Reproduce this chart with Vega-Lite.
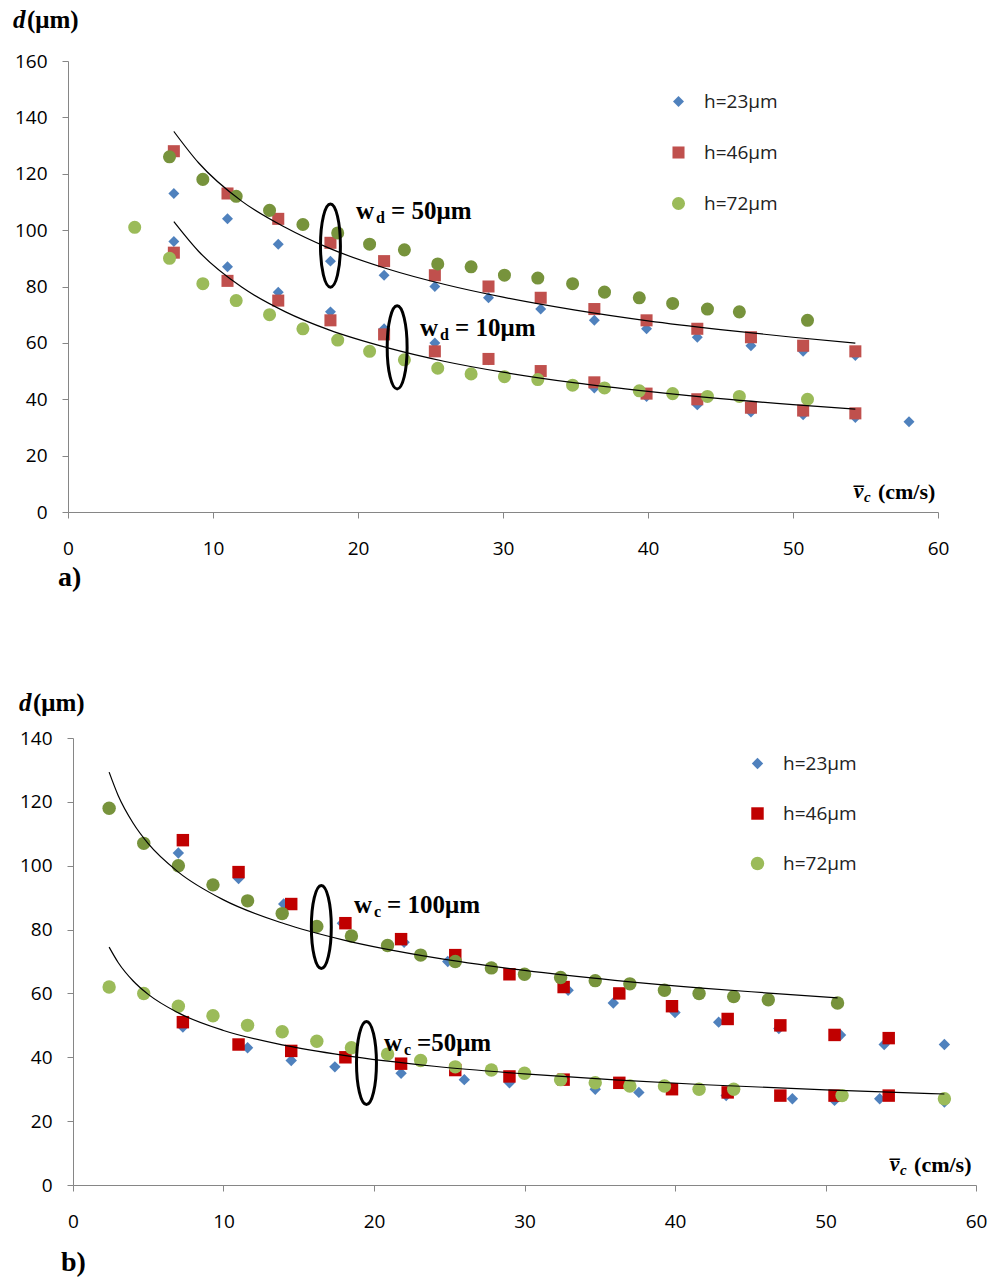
{
"$schema":"https://vega.github.io/schema/vega-lite/v6.json",
"background":"white",
"padding":{"left":12,"top":8,"right":5,"bottom":5},
"align":"none",
"spacing":98,
"resolve":{"scale":{"color":"independent","shape":"independent","size":"independent"},"legend":{"color":"independent","shape":"independent"}},
"datasets":{
"a_pts":[
{"h":"h=23μm","g":"upper","x":7.3,"y":113},{"h":"h=23μm","g":"upper","x":11.0,"y":104},{"h":"h=23μm","g":"upper","x":14.5,"y":95},{"h":"h=23μm","g":"upper","x":18.1,"y":89},{"h":"h=23μm","g":"upper","x":21.8,"y":84},{"h":"h=23μm","g":"upper","x":25.3,"y":80},{"h":"h=23μm","g":"upper","x":29.0,"y":76},{"h":"h=23μm","g":"upper","x":32.6,"y":72},{"h":"h=23μm","g":"upper","x":36.3,"y":68},{"h":"h=23μm","g":"upper","x":39.9,"y":65},{"h":"h=23μm","g":"upper","x":43.4,"y":62},{"h":"h=23μm","g":"upper","x":47.1,"y":59},{"h":"h=23μm","g":"upper","x":50.7,"y":57},{"h":"h=23μm","g":"upper","x":54.3,"y":55.5},
{"h":"h=23μm","g":"lower","x":7.3,"y":96},{"h":"h=23μm","g":"lower","x":11.0,"y":87},{"h":"h=23μm","g":"lower","x":14.5,"y":78},{"h":"h=23μm","g":"lower","x":18.1,"y":71},{"h":"h=23μm","g":"lower","x":21.8,"y":65},{"h":"h=23μm","g":"lower","x":25.3,"y":60},{"h":"h=23μm","g":"lower","x":29.0,"y":54},{"h":"h=23μm","g":"lower","x":32.6,"y":49.5},{"h":"h=23μm","g":"lower","x":36.3,"y":44},{"h":"h=23μm","g":"lower","x":39.9,"y":41},{"h":"h=23μm","g":"lower","x":43.4,"y":38},{"h":"h=23μm","g":"lower","x":47.1,"y":35.5},{"h":"h=23μm","g":"lower","x":50.7,"y":34.5},{"h":"h=23μm","g":"lower","x":54.3,"y":33.5},{"h":"h=23μm","g":"lower","x":58.0,"y":32},
{"h":"h=46μm","g":"upper","x":7.3,"y":128},{"h":"h=46μm","g":"upper","x":11.0,"y":113},{"h":"h=46μm","g":"upper","x":14.5,"y":104},{"h":"h=46μm","g":"upper","x":18.1,"y":95.5},{"h":"h=46μm","g":"upper","x":21.8,"y":89},{"h":"h=46μm","g":"upper","x":25.3,"y":84},{"h":"h=46μm","g":"upper","x":29.0,"y":80},{"h":"h=46μm","g":"upper","x":32.6,"y":76},{"h":"h=46μm","g":"upper","x":36.3,"y":72},{"h":"h=46μm","g":"upper","x":39.9,"y":68},{"h":"h=46μm","g":"upper","x":43.4,"y":65},{"h":"h=46μm","g":"upper","x":47.1,"y":62},{"h":"h=46μm","g":"upper","x":50.7,"y":59},{"h":"h=46μm","g":"upper","x":54.3,"y":57},
{"h":"h=46μm","g":"lower","x":7.3,"y":92},{"h":"h=46μm","g":"lower","x":11.0,"y":82},{"h":"h=46μm","g":"lower","x":14.5,"y":75},{"h":"h=46μm","g":"lower","x":18.1,"y":68},{"h":"h=46μm","g":"lower","x":21.8,"y":63},{"h":"h=46μm","g":"lower","x":25.3,"y":57},{"h":"h=46μm","g":"lower","x":29.0,"y":54.3},{"h":"h=46μm","g":"lower","x":32.6,"y":50},{"h":"h=46μm","g":"lower","x":36.3,"y":46},{"h":"h=46μm","g":"lower","x":39.9,"y":42},{"h":"h=46μm","g":"lower","x":43.4,"y":40},{"h":"h=46μm","g":"lower","x":47.1,"y":37},{"h":"h=46μm","g":"lower","x":50.7,"y":36},{"h":"h=46μm","g":"lower","x":54.3,"y":35},
{"h":"h=72μm","g":"upper","x":7.0,"y":126},{"h":"h=72μm","g":"upper","x":9.3,"y":118},{"h":"h=72μm","g":"upper","x":11.6,"y":112},{"h":"h=72μm","g":"upper","x":13.9,"y":107},{"h":"h=72μm","g":"upper","x":16.2,"y":102},{"h":"h=72μm","g":"upper","x":18.6,"y":99},{"h":"h=72μm","g":"upper","x":20.8,"y":95},{"h":"h=72μm","g":"upper","x":23.2,"y":93},{"h":"h=72μm","g":"upper","x":25.5,"y":88},{"h":"h=72μm","g":"upper","x":27.8,"y":87},{"h":"h=72μm","g":"upper","x":30.1,"y":84},{"h":"h=72μm","g":"upper","x":32.4,"y":83},{"h":"h=72μm","g":"upper","x":34.8,"y":81},{"h":"h=72μm","g":"upper","x":37.0,"y":78},{"h":"h=72μm","g":"upper","x":39.4,"y":76},{"h":"h=72μm","g":"upper","x":41.7,"y":74},{"h":"h=72μm","g":"upper","x":44.1,"y":72},{"h":"h=72μm","g":"upper","x":46.3,"y":71},{"h":"h=72μm","g":"upper","x":51.0,"y":68},
{"h":"h=72μm","g":"lower","x":4.6,"y":101},{"h":"h=72μm","g":"lower","x":7.0,"y":90},{"h":"h=72μm","g":"lower","x":9.3,"y":81},{"h":"h=72μm","g":"lower","x":11.6,"y":75},{"h":"h=72μm","g":"lower","x":13.9,"y":70},{"h":"h=72μm","g":"lower","x":16.2,"y":65},{"h":"h=72μm","g":"lower","x":18.6,"y":61},{"h":"h=72μm","g":"lower","x":20.8,"y":57},{"h":"h=72μm","g":"lower","x":23.2,"y":54},{"h":"h=72μm","g":"lower","x":25.5,"y":51},{"h":"h=72μm","g":"lower","x":27.8,"y":49},{"h":"h=72μm","g":"lower","x":30.1,"y":48},{"h":"h=72μm","g":"lower","x":32.4,"y":47},{"h":"h=72μm","g":"lower","x":34.8,"y":45},{"h":"h=72μm","g":"lower","x":37.0,"y":44},{"h":"h=72μm","g":"lower","x":39.4,"y":43},{"h":"h=72μm","g":"lower","x":41.7,"y":42},{"h":"h=72μm","g":"lower","x":44.1,"y":41},{"h":"h=72μm","g":"lower","x":46.3,"y":41},{"h":"h=72μm","g":"lower","x":51.0,"y":40}
],
"a_curves":[
{"c":"u","x":7.3,"y":135},{"c":"u","x":9,"y":123.9},{"c":"u","x":12,"y":110.2},{"c":"u","x":15,"y":100.9},{"c":"u","x":18,"y":93.6},{"c":"u","x":22,"y":86.3},{"c":"u","x":26,"y":80.7},{"c":"u","x":30,"y":76.2},{"c":"u","x":35,"y":71.6},{"c":"u","x":40,"y":67.8},{"c":"u","x":45,"y":64.7},{"c":"u","x":50,"y":62.0},{"c":"u","x":54.3,"y":59.9},
{"c":"l","x":7.3,"y":103},{"c":"l","x":9,"y":92.5},{"c":"l","x":12,"y":79.7},{"c":"l","x":15,"y":71.0},{"c":"l","x":18,"y":64.6},{"c":"l","x":22,"y":58.3},{"c":"l","x":26,"y":53.4},{"c":"l","x":30,"y":49.6},{"c":"l","x":35,"y":45.8},{"c":"l","x":40,"y":42.8},{"c":"l","x":45,"y":40.2},{"c":"l","x":50,"y":38.1},{"c":"l","x":54.3,"y":36.5}
],
"a_ell":[{"x":18.1,"y":94.5},{"x":22.7,"y":58.4}],
"a_ann":[{"x":19.86,"y":106.8,"sub":"d","rest":"= 50μm"},{"x":24.28,"y":65.3,"sub":"d","rest":"= 10μm"}],
"a_yt":[{"x":-3.8,"y":174.5,"t1":"d","t2":"(μm)"}],
"a_xt":[{"x":54.2,"y":7.1,"v":"v̅","c":"c","u":"(cm/s)"}],
"b_pts":[
{"h":"h=23μm","g":"upper","x":7.0,"y":104},{"h":"h=23μm","g":"upper","x":11.0,"y":96},{"h":"h=23μm","g":"upper","x":14.0,"y":88},{"h":"h=23μm","g":"upper","x":17.9,"y":82},{"h":"h=23μm","g":"upper","x":22.0,"y":76},{"h":"h=23μm","g":"upper","x":24.9,"y":70},{"h":"h=23μm","g":"upper","x":29.0,"y":66},{"h":"h=23μm","g":"upper","x":32.9,"y":61},{"h":"h=23μm","g":"upper","x":35.9,"y":57},{"h":"h=23μm","g":"upper","x":40.0,"y":54},{"h":"h=23μm","g":"upper","x":42.9,"y":51},{"h":"h=23μm","g":"upper","x":46.9,"y":49},{"h":"h=23μm","g":"upper","x":51.0,"y":47},{"h":"h=23μm","g":"upper","x":53.9,"y":44},{"h":"h=23μm","g":"upper","x":57.9,"y":44},
{"h":"h=23μm","g":"lower","x":7.3,"y":49.5},{"h":"h=23μm","g":"lower","x":11.6,"y":43},{"h":"h=23μm","g":"lower","x":14.5,"y":39},{"h":"h=23μm","g":"lower","x":17.4,"y":37},{"h":"h=23μm","g":"lower","x":21.8,"y":35},{"h":"h=23μm","g":"lower","x":26.0,"y":33},{"h":"h=23μm","g":"lower","x":29.0,"y":32},{"h":"h=23μm","g":"lower","x":34.7,"y":30},{"h":"h=23μm","g":"lower","x":37.6,"y":29},{"h":"h=23μm","g":"lower","x":43.4,"y":28},{"h":"h=23μm","g":"lower","x":47.8,"y":27},{"h":"h=23μm","g":"lower","x":50.6,"y":26.5},{"h":"h=23μm","g":"lower","x":53.6,"y":27},{"h":"h=23μm","g":"lower","x":57.9,"y":26},
{"h":"h=46μm","g":"upper","x":7.3,"y":108},{"h":"h=46μm","g":"upper","x":11.0,"y":98},{"h":"h=46μm","g":"upper","x":14.5,"y":88},{"h":"h=46μm","g":"upper","x":18.1,"y":82},{"h":"h=46μm","g":"upper","x":21.8,"y":77},{"h":"h=46μm","g":"upper","x":25.4,"y":72},{"h":"h=46μm","g":"upper","x":29.0,"y":66},{"h":"h=46μm","g":"upper","x":32.6,"y":62},{"h":"h=46μm","g":"upper","x":36.3,"y":60},{"h":"h=46μm","g":"upper","x":39.8,"y":56},{"h":"h=46μm","g":"upper","x":43.5,"y":52},{"h":"h=46μm","g":"upper","x":47.0,"y":50},{"h":"h=46μm","g":"upper","x":50.6,"y":47},{"h":"h=46μm","g":"upper","x":54.2,"y":46},
{"h":"h=46μm","g":"lower","x":7.3,"y":51},{"h":"h=46μm","g":"lower","x":11.0,"y":44},{"h":"h=46μm","g":"lower","x":14.5,"y":42},{"h":"h=46μm","g":"lower","x":18.1,"y":40},{"h":"h=46μm","g":"lower","x":21.8,"y":38},{"h":"h=46μm","g":"lower","x":25.4,"y":36},{"h":"h=46μm","g":"lower","x":29.0,"y":34},{"h":"h=46μm","g":"lower","x":32.6,"y":33},{"h":"h=46μm","g":"lower","x":36.3,"y":32},{"h":"h=46μm","g":"lower","x":39.8,"y":30},{"h":"h=46μm","g":"lower","x":43.5,"y":29},{"h":"h=46μm","g":"lower","x":47.0,"y":28},{"h":"h=46μm","g":"lower","x":50.6,"y":28},{"h":"h=46μm","g":"lower","x":54.2,"y":28},
{"h":"h=72μm","g":"upper","x":2.4,"y":118},{"h":"h=72μm","g":"upper","x":4.7,"y":107},{"h":"h=72μm","g":"upper","x":7.0,"y":100},{"h":"h=72μm","g":"upper","x":9.3,"y":94},{"h":"h=72μm","g":"upper","x":11.6,"y":89},{"h":"h=72μm","g":"upper","x":13.9,"y":85},{"h":"h=72μm","g":"upper","x":16.2,"y":81},{"h":"h=72μm","g":"upper","x":18.5,"y":78},{"h":"h=72μm","g":"upper","x":20.9,"y":75},{"h":"h=72μm","g":"upper","x":23.1,"y":72},{"h":"h=72μm","g":"upper","x":25.4,"y":70},{"h":"h=72μm","g":"upper","x":27.8,"y":68},{"h":"h=72μm","g":"upper","x":30.0,"y":66},{"h":"h=72μm","g":"upper","x":32.4,"y":65},{"h":"h=72μm","g":"upper","x":34.7,"y":64},{"h":"h=72μm","g":"upper","x":37.0,"y":63},{"h":"h=72μm","g":"upper","x":39.3,"y":61},{"h":"h=72μm","g":"upper","x":41.6,"y":60},{"h":"h=72μm","g":"upper","x":43.9,"y":59},{"h":"h=72μm","g":"upper","x":46.2,"y":58},{"h":"h=72μm","g":"upper","x":50.8,"y":57},
{"h":"h=72μm","g":"lower","x":2.4,"y":62},{"h":"h=72μm","g":"lower","x":4.7,"y":60},{"h":"h=72μm","g":"lower","x":7.0,"y":56},{"h":"h=72μm","g":"lower","x":9.3,"y":53},{"h":"h=72μm","g":"lower","x":11.6,"y":50},{"h":"h=72μm","g":"lower","x":13.9,"y":48},{"h":"h=72μm","g":"lower","x":16.2,"y":45},{"h":"h=72μm","g":"lower","x":18.5,"y":43},{"h":"h=72μm","g":"lower","x":20.9,"y":41},{"h":"h=72μm","g":"lower","x":23.1,"y":39},{"h":"h=72μm","g":"lower","x":25.4,"y":37},{"h":"h=72μm","g":"lower","x":27.8,"y":36},{"h":"h=72μm","g":"lower","x":30.0,"y":35},{"h":"h=72μm","g":"lower","x":32.4,"y":33},{"h":"h=72μm","g":"lower","x":34.7,"y":32},{"h":"h=72μm","g":"lower","x":37.0,"y":31},{"h":"h=72μm","g":"lower","x":39.3,"y":31},{"h":"h=72μm","g":"lower","x":41.6,"y":30},{"h":"h=72μm","g":"lower","x":43.9,"y":30},{"h":"h=72μm","g":"lower","x":51.1,"y":28},{"h":"h=72μm","g":"lower","x":57.9,"y":27}
],
"b_curves":[
{"c":"u","x":2.4,"y":129.3},{"c":"u","x":3,"y":122.0},{"c":"u","x":4,"y":113.3},{"c":"u","x":5,"y":106.9},{"c":"u","x":7,"y":98.0},{"c":"u","x":10,"y":89.3},{"c":"u","x":14,"y":81.9},{"c":"u","x":18,"y":76.7},{"c":"u","x":24,"y":71.2},{"c":"u","x":30,"y":67.2},{"c":"u","x":36,"y":64.1},{"c":"u","x":42,"y":61.6},{"c":"u","x":46,"y":60.2},{"c":"u","x":50.8,"y":58.6},
{"c":"l","x":2.4,"y":74.5},{"c":"l","x":3,"y":69.7},{"c":"l","x":4,"y":63.9},{"c":"l","x":5,"y":59.7},{"c":"l","x":7,"y":53.9},{"c":"l","x":10,"y":48.4},{"c":"l","x":14,"y":43.8},{"c":"l","x":18,"y":40.6},{"c":"l","x":24,"y":37.2},{"c":"l","x":30,"y":34.8},{"c":"l","x":36,"y":32.9},{"c":"l","x":42,"y":31.4},{"c":"l","x":50,"y":29.8},{"c":"l","x":57.9,"y":28.5}
],
"b_ell":[{"x":16.5,"y":80.8},{"x":19.5,"y":38.2}],
"b_ann":[{"x":18.67,"y":87.7,"sub":"c","rest":"= 100μm"},{"x":20.66,"y":44.5,"sub":"c","rest":"=50μm"}],
"b_yt":[{"x":-3.59,"y":151,"t1":"d","t2":"(μm)"}],
"b_xt":[{"x":54.29,"y":6.3,"v":"v̅","c":"c","u":"(cm/s)"}]
},
"vconcat":[
{
"width":870,"height":451,
"title":{"text":"a)","orient":"bottom","anchor":"start","frame":"group","font":"Liberation Serif","fontSize":28,"fontWeight":"bold","color":"#000","dx":-10,"offset":6},
"encoding":{
"x":{"field":"x","type":"quantitative","scale":{"domain":[0,60],"nice":false,"zero":false},"axis":{"values":[0,10,20,30,40,50,60],"title":null}},
"y":{"field":"y","type":"quantitative","scale":{"domain":[0,160],"nice":false},"axis":{"values":[0,20,40,60,80,100,120,140,160],"title":null}}
},
"layer":[
{"data":{"name":"a_pts"},"mark":{"type":"point","filled":true,"opacity":1},
"encoding":{
"color":{"field":"h","type":"nominal","scale":{"domain":["h=23μm","h=46μm","h=72μm"],"range":["#4F81BD","#C0504D","#9BBB59"]},"condition":{"test":"datum.g==='upper' && datum.h==='h=72μm'","value":"#77933C"},
"legend":{"title":null,"orient":"none","legendX":601,"legendY":31,"rowPadding":31}},
"shape":{"field":"h","type":"nominal","scale":{"domain":["h=23μm","h=46μm","h=72μm"],"range":["diamond","square","circle"]},
"legend":{"title":null,"orient":"none","legendX":601,"legendY":31,"rowPadding":31}},
"size":{"field":"h","type":"nominal","scale":{"domain":["h=23μm","h=46μm","h=72μm"],"range":[120,170,200]},"legend":null}
}},
{"data":{"name":"a_curves"},"mark":{"type":"line","color":"#000","strokeWidth":1.2,"interpolate":"monotone"},"encoding":{"detail":{"field":"c"}}},
{"data":{"name":"a_ell"},"mark":{"type":"point","shape":"M0,-1A0.24,1 0 1,1 0,1A0.24,1 0 1,1 0,-1Z","size":6900,"filled":false,"stroke":"#000","strokeWidth":3,"opacity":1}},
{"data":{"name":"a_ann"},"mark":{"type":"text","text":"w","align":"left","baseline":"middle","font":"Liberation Serif","fontSize":25,"fontWeight":"bold","color":"#000"}},
{"data":{"name":"a_ann"},"mark":{"type":"text","align":"left","baseline":"middle","font":"Liberation Serif","fontSize":16,"fontWeight":"bold","color":"#000","dx":20,"dy":7},"encoding":{"text":{"field":"sub"}}},
{"data":{"name":"a_ann"},"mark":{"type":"text","align":"left","baseline":"middle","font":"Liberation Serif","fontSize":25,"fontWeight":"bold","color":"#000","dx":35},"encoding":{"text":{"field":"rest"}}},
{"data":{"name":"a_yt"},"mark":{"type":"text","align":"left","baseline":"middle","font":"Liberation Serif","fontSize":25,"fontWeight":"bold","fontStyle":"italic","color":"#000"},"encoding":{"text":{"field":"t1"}}},
{"data":{"name":"a_yt"},"mark":{"type":"text","align":"left","baseline":"middle","font":"Liberation Serif","fontSize":25,"fontWeight":"bold","color":"#000","dx":14},"encoding":{"text":{"field":"t2"}}},
{"data":{"name":"a_xt"},"mark":{"type":"text","align":"left","baseline":"middle","font":"Liberation Serif","fontSize":21,"fontWeight":"bold","fontStyle":"italic","color":"#000"},"encoding":{"text":{"field":"v"}}},
{"data":{"name":"a_xt"},"mark":{"type":"text","align":"left","baseline":"middle","font":"Liberation Serif","fontSize":15,"fontWeight":"bold","fontStyle":"italic","color":"#000","dx":10,"dy":5},"encoding":{"text":{"field":"c"}}},
{"data":{"name":"a_xt"},"mark":{"type":"text","align":"left","baseline":"middle","font":"Liberation Serif","fontSize":22,"fontWeight":"bold","color":"#000","dx":24},"encoding":{"text":{"field":"u"}}}
]
},
{
"width":908,"height":447,
"title":{"text":"b)","orient":"bottom","anchor":"start","frame":"group","font":"Liberation Serif","fontSize":28,"fontWeight":"bold","color":"#000","dx":-7,"offset":18},
"encoding":{
"x":{"field":"x","type":"quantitative","scale":{"domain":[0,60],"nice":false,"zero":false,"range":[5,908]},"axis":{"values":[0,10,20,30,40,50,60],"title":null}},
"y":{"field":"y","type":"quantitative","scale":{"domain":[0,140],"nice":false},"axis":{"values":[0,20,40,60,80,100,120,140],"title":null,"offset":-5}}
},
"layer":[
{"data":{"name":"b_pts"},"mark":{"type":"point","filled":true,"opacity":1},
"encoding":{
"color":{"field":"h","type":"nominal","scale":{"domain":["h=23μm","h=46μm","h=72μm"],"range":["#4F81BD","#C00000","#9BBB59"]},"condition":{"test":"datum.g==='upper' && datum.h==='h=72μm'","value":"#77933C"},
"legend":{"title":null,"orient":"none","legendX":680,"legendY":16,"rowPadding":30,"labelOffset":16}},
"shape":{"field":"h","type":"nominal","scale":{"domain":["h=23μm","h=46μm","h=72μm"],"range":["diamond","square","circle"]},
"legend":{"title":null,"orient":"none","legendX":680,"legendY":16,"rowPadding":30,"labelOffset":16}},
"size":{"field":"h","type":"nominal","scale":{"domain":["h=23μm","h=46μm","h=72μm"],"range":[130,180,220]},"legend":null}
}},
{"data":{"name":"b_curves"},"mark":{"type":"line","color":"#000","strokeWidth":1.2,"interpolate":"monotone"},"encoding":{"detail":{"field":"c"}}},
{"data":{"name":"b_ell"},"mark":{"type":"point","shape":"M0,-1A0.24,1 0 1,1 0,1A0.24,1 0 1,1 0,-1Z","size":6900,"filled":false,"stroke":"#000","strokeWidth":3,"opacity":1}},
{"data":{"name":"b_ann"},"mark":{"type":"text","text":"w","align":"left","baseline":"middle","font":"Liberation Serif","fontSize":25,"fontWeight":"bold","color":"#000"}},
{"data":{"name":"b_ann"},"mark":{"type":"text","align":"left","baseline":"middle","font":"Liberation Serif","fontSize":16,"fontWeight":"bold","color":"#000","dx":20,"dy":7},"encoding":{"text":{"field":"sub"}}},
{"data":{"name":"b_ann"},"mark":{"type":"text","align":"left","baseline":"middle","font":"Liberation Serif","fontSize":25,"fontWeight":"bold","color":"#000","dx":33},"encoding":{"text":{"field":"rest"}}},
{"data":{"name":"b_yt"},"mark":{"type":"text","align":"left","baseline":"middle","font":"Liberation Serif","fontSize":25,"fontWeight":"bold","fontStyle":"italic","color":"#000"},"encoding":{"text":{"field":"t1"}}},
{"data":{"name":"b_yt"},"mark":{"type":"text","align":"left","baseline":"middle","font":"Liberation Serif","fontSize":25,"fontWeight":"bold","color":"#000","dx":14},"encoding":{"text":{"field":"t2"}}},
{"data":{"name":"b_xt"},"mark":{"type":"text","align":"left","baseline":"middle","font":"Liberation Serif","fontSize":21,"fontWeight":"bold","fontStyle":"italic","color":"#000"},"encoding":{"text":{"field":"v"}}},
{"data":{"name":"b_xt"},"mark":{"type":"text","align":"left","baseline":"middle","font":"Liberation Serif","fontSize":15,"fontWeight":"bold","fontStyle":"italic","color":"#000","dx":10,"dy":5},"encoding":{"text":{"field":"c"}}},
{"data":{"name":"b_xt"},"mark":{"type":"text","align":"left","baseline":"middle","font":"Liberation Serif","fontSize":22,"fontWeight":"bold","color":"#000","dx":24},"encoding":{"text":{"field":"u"}}}
]
}
],
"config":{
"view":{"stroke":null},
"axis":{"grid":false,"domainColor":"#868686","tickColor":"#868686","tickSize":6,"labelFont":"Open Sans","labelFontSize":19,"labelColor":"#000","domainWidth":1,"labelFlush":false,"labelOverlap":false},
"axisX":{"labelPadding":21},
"axisY":{"labelPadding":15},
"legend":{"labelFont":"Open Sans","labelFontSize":19,"labelColor":"#222","symbolSize":110,"rowPadding":32,"labelOffset":16,"padding":0,"symbolStrokeWidth":0,"symbolOpacity":1}
}
}
